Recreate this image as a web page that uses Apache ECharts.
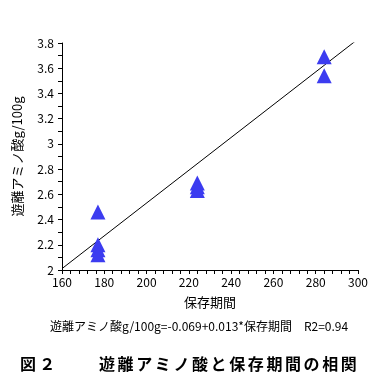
<!DOCTYPE html>
<html><head><meta charset="utf-8">
<script src="https://cdn.jsdelivr.net/npm/echarts@6/dist/echarts.min.js"></script>
<style>html,body{margin:0;padding:0;background:#fff}#c{width:385px;height:392px}</style>
</head><body><div id="c"></div>
<script>
// Data
const storageDays = [177, 177, 177, 177, 224, 224, 224, 284, 284];
const aminoAcid   = [2.46, 2.20, 2.16, 2.12, 2.69, 2.66, 2.63, 3.69, 3.54];
const fitIntercept = -0.069;
const fitSlope = 0.013;
const fitRange = [160, 300];
const xTicks = [160, 180, 200, 220, 240, 260, 280, 300];
const yTicks = [2, 2.2, 2.4, 2.6, 2.8, 3, 3.2, 3.4, 3.6, 3.8];
const yAxisName = '遊離アミノ酸g/100g';
const xAxisName = '保存期間';
const equationText = '遊離アミノ酸g/100g=-0.069+0.013*保存期間　R2=0.94';
const captionHead = '図２';
const captionBody = '遊離アミノ酸と保存期間の相関';

const font = '"Noto Sans CJK JP", "Noto Sans", sans-serif';
const chart = echarts.init(document.getElementById('c'));
const pts = storageDays.map((d, i) => [d, aminoAcid[i]]);
const fit = fitRange.map(x => [x, fitIntercept + fitSlope * x]);

const graphics = [
  { type: 'text', left: 50, top: 320,
    style: { text: equationText, font: '12px ' + font, fill: '#000' } }
];
graphics.push({ type: 'text', left: 20, top: 356,
  style: { text: captionHead.split('').join('\u2009'), font: 'bold 16px ' + font, fill: '#000' } });
captionBody.split('').forEach((ch, i) => {
  graphics.push({ type: 'text', left: 99 + i * 18.6, top: 356,
    style: { text: ch, font: 'bold 16px ' + font, fill: '#000' } });
});

chart.setOption({
  animation: false,
  backgroundColor: '#fff',
  grid: { left: 62, top: 43, right: 27, bottom: 122 },
  xAxis: {
    type: 'value', min: 160, max: 300, interval: 20,
    name: xAxisName, nameLocation: 'middle', nameGap: 26,
    nameTextStyle: { color: '#000', fontSize: 13, fontFamily: font },
    axisLine: { lineStyle: { color: '#000', width: 1 } },
    axisTick: { show: true, inside: false, length: 4, lineStyle: { color: '#000' } },
    minorTick: { show: true, splitNumber: 5, length: 4, lineStyle: { color: '#000' } },
    axisLabel: { color: '#000', fontSize: 12, fontFamily: font, margin: 6,
      formatter: v => xTicks.includes(v) ? String(v) : '' },
    splitLine: { show: false }
  },
  yAxis: {
    type: 'value', min: 2, max: 3.8, interval: 0.2,
    name: yAxisName, nameLocation: 'middle', nameGap: 38, nameRotate: 90,
    nameTextStyle: { color: '#000', fontSize: 13, fontFamily: font },
    axisLine: { show: true, lineStyle: { color: '#000', width: 1 } },
    axisTick: { show: true, length: 4, lineStyle: { color: '#000' } },
    minorTick: { show: true, splitNumber: 2, length: 4, lineStyle: { color: '#000' } },
    axisLabel: { color: '#000', fontSize: 12, fontFamily: font, margin: 8,
      formatter: v => { const t = yTicks.find(y => Math.abs(y - v) < 1e-6); return t === undefined ? '' : String(t); } },
    splitLine: { show: false }
  },
  series: [
    { type: 'line', data: fit, symbol: 'none', clip: true, silent: true,
      lineStyle: { color: '#000', width: 1 }, z: 2 },
    { type: 'scatter', data: pts, symbol: 'triangle', symbolSize: [15, 15],
      itemStyle: { color: '#3c3cf0', opacity: 1 }, z: 3 }
  ],
  graphic: graphics
});
</script></body></html>
